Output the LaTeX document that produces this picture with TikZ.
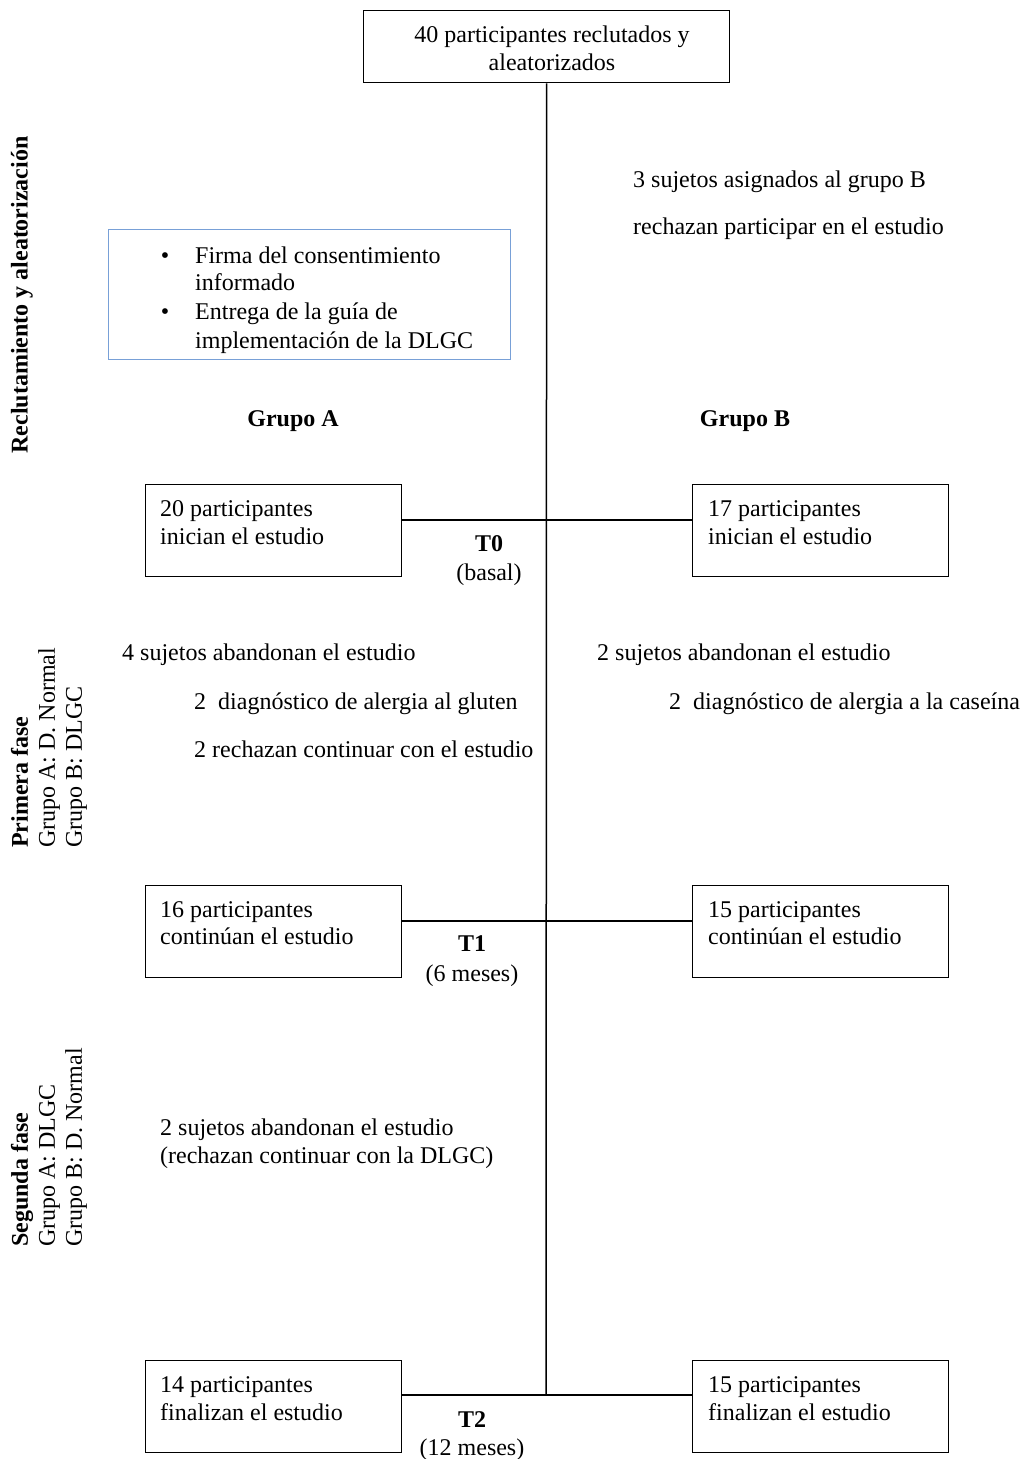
\documentclass[tikz,border=0pt]{standalone}
\usepackage{fontspec}
\setmainfont{Liberation Serif}
\begin{document}
\begin{tikzpicture}[x=1pt,y=-1pt,
  txt/.style={inner sep=0pt,font=\fontsize{24}{28}\selectfont},
  bx/.style={draw=black,line width=1.3pt,inner sep=0pt,minimum width=256,minimum height=92,anchor=north west},
  bluebx/.style={draw={rgb,255:red,120;green,160;blue,215},line width=1.2pt,inner sep=0pt,minimum width=402,minimum height=130,anchor=north west},
  conn/.style={line width=1.5pt},
  side/.style={inner sep=0pt,rotate=90,align=left,font=\fontsize{24}{27}\selectfont}]
\fill[white] (0,0) rectangle (1033,1459);
\useasboundingbox (0,0) rectangle (1033,1459);

% top box
\node[draw=black,line width=1.3pt,minimum width=366,minimum height=72,anchor=north west,inner sep=0pt] (top) at (363,10) {};
\node[txt,anchor=base] (top1) at (552,42) {40 participantes reclutados y};
\node[txt,anchor=base] (top2) at (552,70) {aleatorizados};

% trunk coordinates
\coordinate (t0) at (546,520);
\coordinate (t1) at (546,921);
\coordinate (t2) at (546,1395);

% text top right
\node[txt,anchor=base west] (rej1) at (633,187) {3 sujetos asignados al grupo B};
\node[txt,anchor=base west] (rej2) at (633,234) {rechazan participar en el estudio};

% blue box
\node[bluebx] (blue) at (108,229) {};
\node[txt,anchor=base] (bul1) at (165,263) {•};
\node[txt,anchor=base] (bul2) at (165,319) {•};
\node[txt,anchor=base west] (bt1) at (195,263) {Firma del consentimiento};
\node[txt,anchor=base west] (bt2) at (195,290) {informado};
\node[txt,anchor=base west] (bt3) at (195,319) {Entrega de la guía de};
\node[txt,anchor=base west] (bt4) at (195,348) {implementación de la DLGC};

% group headers
\node[txt,anchor=base,font=\fontsize{24}{28}\selectfont\bfseries] (gA) at (293,426) {Grupo A};
\node[txt,anchor=base,font=\fontsize{24}{28}\selectfont\bfseries] (gB) at (745,426) {Grupo B};

% boxes T0
\node[bx] (A0) at (145,484) {};
\node[txt,anchor=base west] (A0a) at (160,516) {20 participantes};
\node[txt,anchor=base west] (A0b) at (160,544) {inician el estudio};
\node[bx] (B0) at (692,484) {};
\node[txt,anchor=base west] (B0a) at (708,516) {17 participantes};
\node[txt,anchor=base west] (B0b) at (708,544) {inician el estudio};
\node[txt,anchor=base,font=\fontsize{24}{28}\selectfont\bfseries] (T0) at (489,551) {T0};
\node[txt,anchor=base] (T0b) at (489,580) {(basal)};

% first phase drop-outs
\node[txt,anchor=base west] (d1) at (122,660) {4 sujetos abandonan el estudio};
\node[txt,anchor=base west] (d2) at (194,709) {2\ \ diagnóstico de alergia al gluten};
\node[txt,anchor=base west] (d3) at (194,757) {2 rechazan continuar con el estudio};
\node[txt,anchor=base west] (e1) at (597,660) {2 sujetos abandonan el estudio};
\node[txt,anchor=base west] (e2) at (669,709) {2\ \ diagnóstico de alergia a la caseína};

% boxes T1
\node[bx] (A1) at (145,885) {};
\node[txt,anchor=base west] (A1a) at (160,917) {16 participantes};
\node[txt,anchor=base west] (A1b) at (160,944) {continúan el estudio};
\node[bx] (B1) at (692,885) {};
\node[txt,anchor=base west] (B1a) at (708,917) {15 participantes};
\node[txt,anchor=base west] (B1b) at (708,944) {continúan el estudio};
\node[txt,anchor=base,font=\fontsize{24}{28}\selectfont\bfseries] (T1) at (472,951) {T1};
\node[txt,anchor=base] (T1b) at (472,981) {(6 meses)};

% second phase drop-outs
\node[txt,anchor=base west] (f1) at (160,1135) {2 sujetos abandonan el estudio};
\node[txt,anchor=base west] (f2) at (160,1163) {(rechazan continuar con la DLGC)};

% boxes T2
\node[bx] (A2) at (145,1360) {};
\node[txt,anchor=base west] (A2a) at (160,1392) {14 participantes};
\node[txt,anchor=base west] (A2b) at (160,1420) {finalizan el estudio};
\node[bx] (B2) at (692,1360) {};
\node[txt,anchor=base west] (B2a) at (708,1392) {15 participantes};
\node[txt,anchor=base west] (B2b) at (708,1420) {finalizan el estudio};
\node[txt,anchor=base,font=\fontsize{24}{28}\selectfont\bfseries] (T2) at (472,1427) {T2};
\node[txt,anchor=base] (T2b) at (472,1455) {(12 meses)};

% side labels
\node[side,font=\fontsize{24}{27}\selectfont\bfseries] (sRec) at (22,295) {Reclutamiento y aleatorización};
\node[side,anchor=west] (sP1) at (49,848) {\textbf{Primera fase}\\Grupo A: D. Normal\\Grupo B: DLGC};
\node[side,anchor=west] (sP2) at (49,1247) {\textbf{Segunda fase}\\Grupo A: DLGC\\Grupo B: D. Normal};

% connectors
\draw[conn] (top.south) -- (t2);
\draw[conn] (A0.east |- t0) -- (B0.west |- t0);
\draw[conn] (A1.east |- t1) -- (B1.west |- t1);
\draw[conn] (A2.east |- t2) -- (B2.west |- t2);
\end{tikzpicture}
\end{document}
